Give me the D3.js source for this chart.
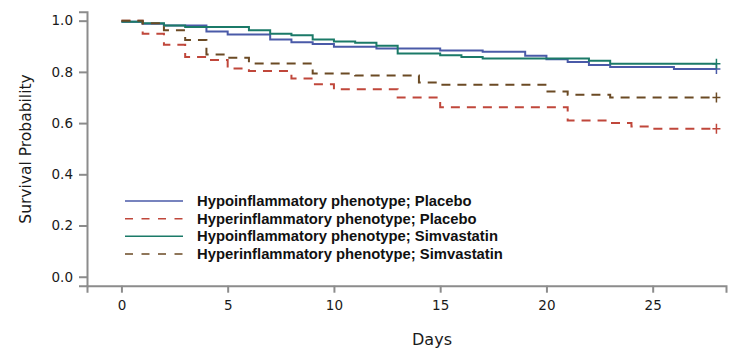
<!DOCTYPE html>
<html>
<head>
<meta charset="utf-8">
<script src="https://cdn.jsdelivr.net/npm/d3@7"></script>
<style>
  body { margin: 0; background: #fff; }
  svg { display: block; }
</style>
</head>
<body>
<svg width="733" height="352"></svg>
<script>
// кривые Каплана-Мейера: день начала ступени и значение выживаемости
const hypoPlaceboDays = [0, 1, 2, 4, 5, 7, 8, 9, 10, 12, 15, 17, 19, 20, 21, 22, 23, 26, 28]
const hypoPlaceboSurv = [0.996, 0.988, 0.981, 0.958, 0.946, 0.926, 0.916, 0.909, 0.898, 0.891, 0.883, 0.879, 0.863, 0.849, 0.839, 0.827, 0.819, 0.811, 0.811]

const hyperPlaceboDays = [0, 1, 2, 3, 4, 5, 6, 8, 9, 10, 13, 15, 21, 23, 24, 25, 28]
const hyperPlaceboSurv = [1.0, 0.949, 0.906, 0.858, 0.846, 0.813, 0.803, 0.774, 0.752, 0.732, 0.700, 0.662, 0.610, 0.600, 0.587, 0.578, 0.578]

const hypoSimvaDays = [0, 1, 2, 3, 6, 7, 8, 9, 10, 11, 12, 13, 15, 16, 17, 22, 23, 28]
const hypoSimvaSurv = [0.996, 0.990, 0.981, 0.975, 0.963, 0.949, 0.943, 0.926, 0.919, 0.914, 0.902, 0.872, 0.865, 0.858, 0.852, 0.843, 0.832, 0.832]

const hyperSimvaDays = [0, 1, 2, 3, 4, 5, 6, 9, 11, 14, 15, 20, 21, 23, 28]
const hyperSimvaSurv = [1.0, 0.990, 0.963, 0.924, 0.868, 0.855, 0.833, 0.794, 0.786, 0.759, 0.750, 0.723, 0.711, 0.700, 0.700]

const seriesNames = [
  "Hypoinflammatory phenotype; Placebo",
  "Hyperinflammatory phenotype; Placebo",
  "Hypoinflammatory phenotype; Simvastatin",
  "Hyperinflammatory phenotype; Simvastatin"
]
const xTicks = [0, 5, 10, 15, 20, 25]
const yTicks = [0, 0.2, 0.4, 0.6, 0.8, 1.0]

const svg = d3.select("svg")
const axisColor = "#8c8c8c"

// шкалы (оси немного выходят за пределы данных, как в оригинале)
const x = d3.scaleLinear().domain([-1.62, 28.45]).range([87, 726])
const y = d3.scaleLinear().domain([-0.035, 1.035]).range([285.7, 11.7])

// <--- ОСИ
const gx = svg.append("g")
  .attr("transform", `translate(0,${y(-0.035)})`)
  .call(d3.axisBottom(x).tickValues(xTicks).tickSizeOuter(0).tickSize(7).tickPadding(8))
const gy = svg.append("g")
  .attr("transform", `translate(${x(-1.62)},0)`)
  .call(d3.axisLeft(y).tickValues(yTicks).tickFormat(d3.format(".1f")).tickSizeOuter(0).tickSize(8).tickPadding(6))

for (const g of [gx, gy]) {
  g.select(".domain").attr("stroke", axisColor).attr("stroke-width", 2)
  g.selectAll(".tick line").attr("stroke", axisColor).attr("stroke-width", 2)
  g.selectAll(".tick text")
    .attr("fill", "#1a1a1a")
    .style("font-family", "DejaVu Sans, Verdana, sans-serif")
    .style("font-size", "13.5px")
}

// подписи осей
svg.append("text")
  .attr("transform", "translate(31,149) rotate(-90)")
  .attr("text-anchor", "middle")
  .style("font-family", "DejaVu Sans, Verdana, sans-serif")
  .style("font-size", "15.5px")
  .attr("fill", "#1a1a1a")
  .text("Survival Probability")

svg.append("text")
  .attr("x", 432).attr("y", 345)
  .attr("text-anchor", "middle")
  .style("font-family", "DejaVu Sans, Verdana, sans-serif")
  .style("font-size", "16px")
  .attr("fill", "#1a1a1a")
  .text("Days")

// <--- ЛИНИИ
const series = [
  {days: hypoPlaceboDays, surv: hypoPlaceboSurv, color: "#4a5aa8", dash: null},
  {days: hyperPlaceboDays, surv: hyperPlaceboSurv, color: "#c0473b", dash: "9,7"},
  {days: hypoSimvaDays, surv: hypoSimvaSurv, color: "#1b7a68", dash: null},
  {days: hyperSimvaDays, surv: hyperSimvaSurv, color: "#6b4a24", dash: "9,7"}
]

const line = d3.line()
  .x((d) => x(d[0]))
  .y((d) => y(d[1]))
  .curve(d3.curveStepAfter)

const drawOrder = [0, 1, 2, 3]
drawOrder.forEach((i) => {
  const s = series[i]
  const pts = s.days.map((d, k) => [d, s.surv[k]])
  svg.append("path")
    .attr("d", line(pts))
    .attr("fill", "none")
    .attr("stroke", s.color)
    .attr("stroke-width", 2)
    .attr("stroke-dasharray", s.dash)

  // цензурирование в конце наблюдения
  const last = pts[pts.length - 1]
  const cx = x(last[0]), cy = y(last[1])
  svg.append("path")
    .attr("d", `M${cx - 4},${cy}H${cx + 4}M${cx},${cy - 5}V${cy + 5}`)
    .attr("stroke", s.color)
    .attr("stroke-width", 1.5)
})

// <--- ЛЕГЕНДА
const legend = svg.append("g")
seriesNames.forEach((name, i) => {
  const ly = 201 + i * 17.67
  legend.append("line")
    .attr("x1", 125).attr("x2", 183)
    .attr("y1", ly).attr("y2", ly)
    .attr("stroke", series[i].color)
    .attr("stroke-width", 1.5)
    .attr("stroke-dasharray", series[i].dash ? "8,8.5" : null)
  legend.append("text")
    .attr("x", 197).attr("y", ly + 5)
    .style("font-family", "Liberation Sans, Arial, sans-serif")
    .style("font-weight", "bold")
    .style("font-size", "14.8px")
    .attr("fill", "#111")
    .text(name)
})
</script>
</body>
</html>
